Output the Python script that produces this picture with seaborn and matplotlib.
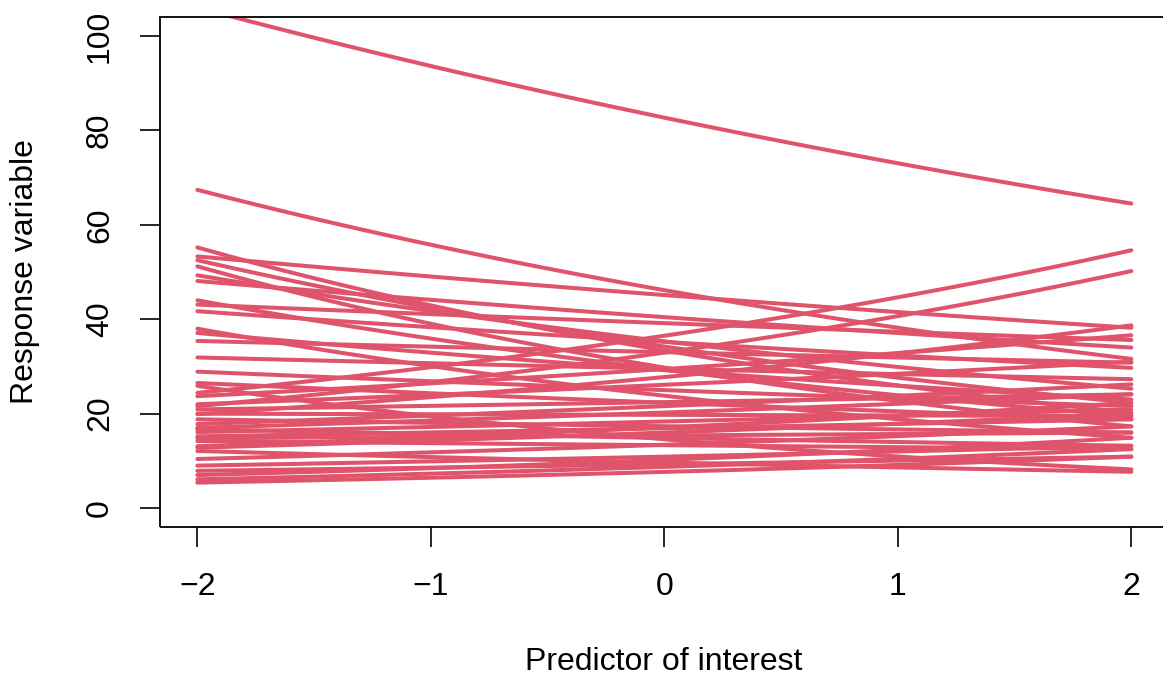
import matplotlib
matplotlib.use("Agg")
import matplotlib.pyplot as plt
from matplotlib.patches import Rectangle
import numpy as np
import pandas as pd
import seaborn as sns

# predicted response at x = -2 (left) and x = 2 (right), one pair per group
left_vals = [106.0, 67.4, 55.2, 53.3, 52.5, 51.2, 49.3, 48.1, 44.0, 43.1,
             41.7, 38.0, 37.1, 35.4, 31.9, 28.9, 25.9, 24.4, 23.7, 21.6,
             20.9, 19.9, 18.8, 17.8, 16.7, 16.1, 15.2, 14.2, 13.1, 12.1,
             10.4, 7.9, 7.0, 6.1, 5.4, 20.0, 17.0, 14.8, 22.0, 12.8,
             9.0, 26.5]
right_vals = [64.5, 31.6, 20.2, 38.2, 22.3, 17.3, 25.3, 34.0, 19.5, 35.6,
              29.7, 14.9, 23.0, 30.8, 27.3, 21.6, 8.2, 54.6, 36.6, 50.2,
              24.1, 38.7, 16.0, 26.2, 13.2, 20.9, 18.8, 12.5, 22.3, 7.7,
              17.3, 10.9, 14.9, 12.5, 10.9, 19.5, 24.1, 16.0, 31.0, 20.0,
              13.2, 18.8]

x_ticks = [-2, -1, 0, 1, 2]
y_ticks = [0, 20, 40, 60, 80, 100]
line_col = "#DF536B"

# log-link fitted curves between the two end values
xs = np.linspace(-2, 2, 60)
rows = []
for i, (lv, rv) in enumerate(zip(left_vals, right_vals)):
    ys = lv * (rv / lv) ** ((xs + 2) / 4)
    rows.append(pd.DataFrame({"x": xs, "y": ys, "grp": i}))
df = pd.concat(rows, ignore_index=True)

sns.set_style("white")
plt.rcParams["font.family"] = ["Liberation Sans", "DejaVu Sans"]
plt.rcParams["text.color"] = "black"

W, H = 1163, 677
fig = plt.figure(figsize=(W / 100, H / 100), dpi=100)
ax = fig.add_axes([160 / W, (H - 527) / H, 1008.7 / W, 510 / H])

sns.lineplot(data=df, x="x", y="y", units="grp", estimator=None,
             color=line_col, lw=2.9, ax=ax, legend=False,
             solid_capstyle="round")

ax.set_xlim(-2.16, 2.16)
ax.set_ylim(-4, 104)
ax.set_xticks(x_ticks)
ax.set_xticklabels([str(t).replace("-", "\u2212") for t in x_ticks])
ax.set_yticks(y_ticks)
ax.set_yticklabels([str(t) for t in y_ticks], rotation=90, va="center")
ax.tick_params(axis="both", direction="out", length=14.4, width=1.2,
               color="black", labelsize=23, pad=18, labelcolor="black",
               left=True, bottom=True)
ax.set_xlabel("")
ax.set_ylabel("")
for s in ax.spines.values():
    s.set_visible(False)
ax.add_patch(Rectangle((0, 0), 1, 1, transform=ax.transAxes, fill=False,
                       lw=1.3, edgecolor="black", clip_on=False, zorder=5))

fig.text(664 / W, 1 - 662 / H, "Predictor of interest", ha="center",
         va="center", fontsize=23, color="black")
fig.text(25 / W, 1 - 272 / H, "Response variable", ha="center",
         va="center", rotation=90, fontsize=23, color="black")

fig.savefig("out.png", dpi=100, facecolor="white")
